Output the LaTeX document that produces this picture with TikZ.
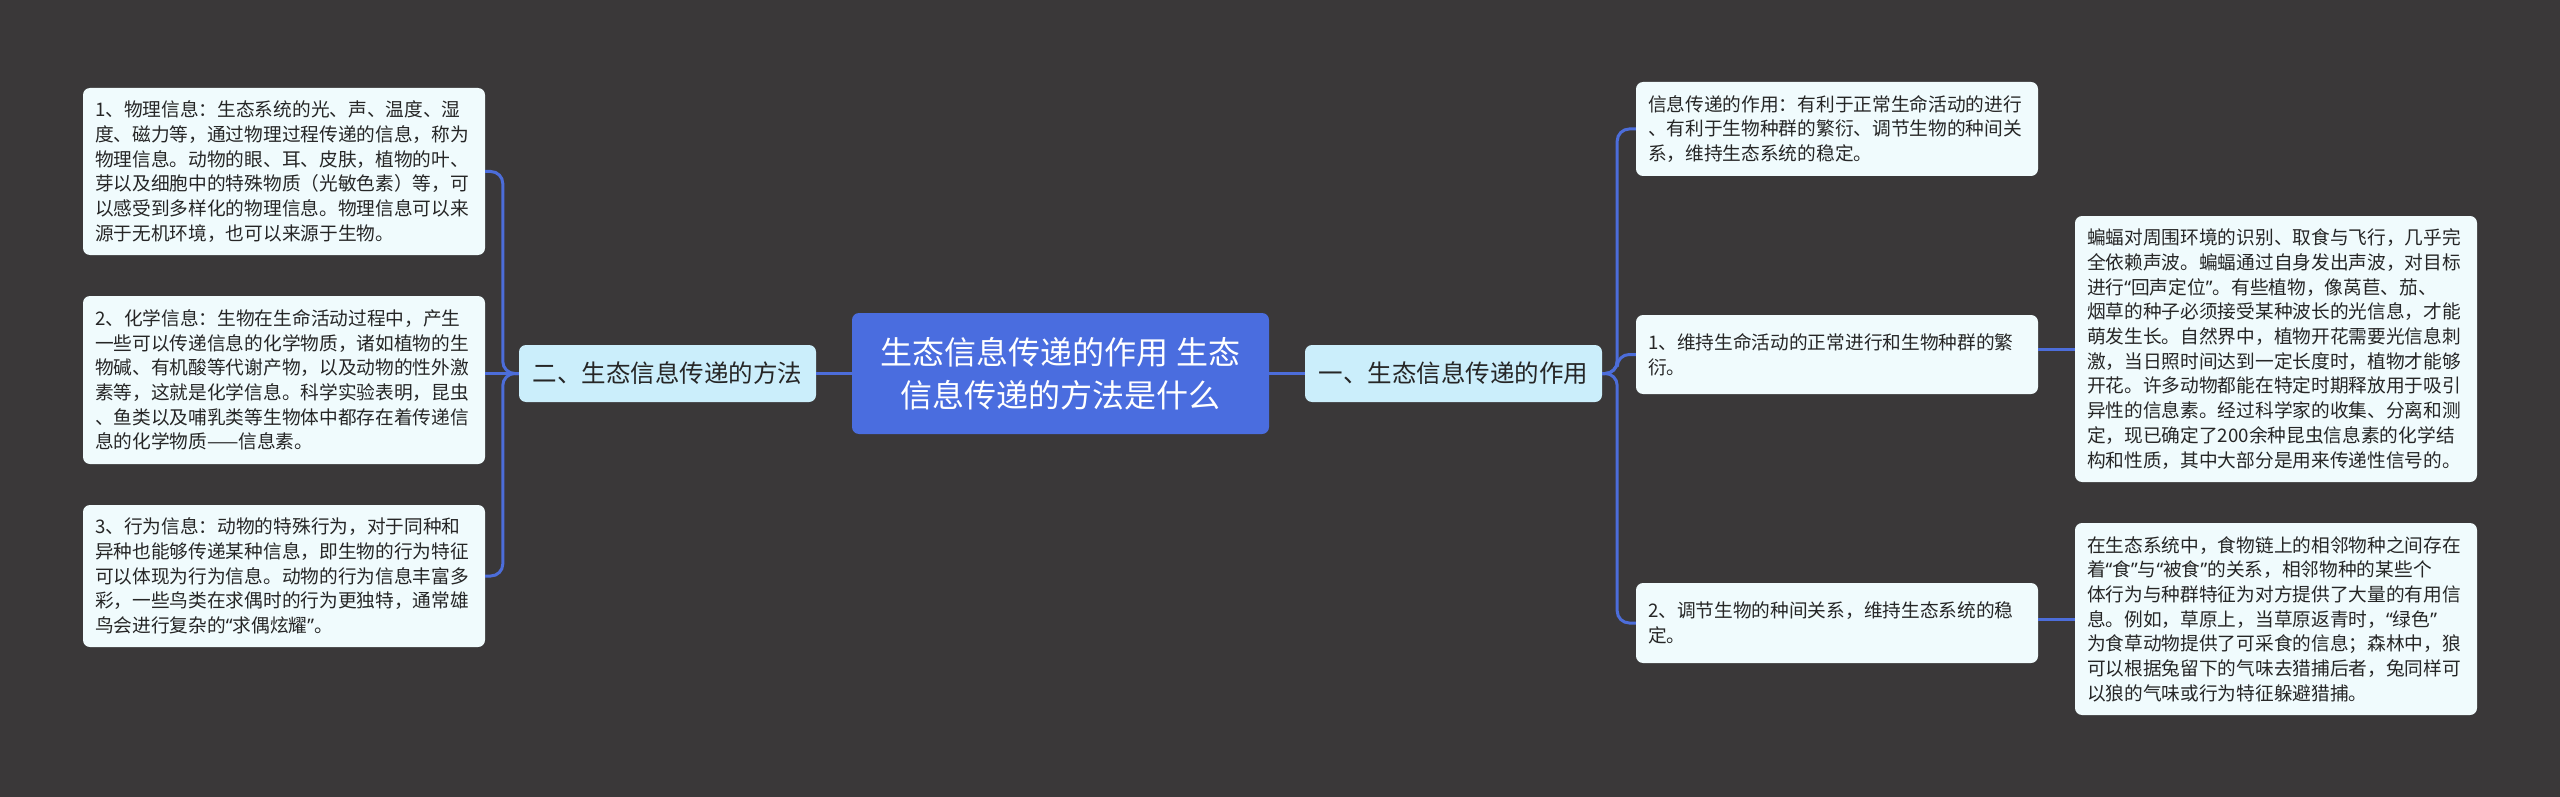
\documentclass[tikz,border=0pt]{standalone}
\usepackage{fontspec}
\newfontfamily\cjk{Noto Sans CJK SC}
\newfontfamily\qfont{Noto Sans}
\newcommand\oq{{\qfont “}}
\newcommand\cq{{\qfont ”}}
\definecolor{bgcol}{HTML}{3A3839}
\definecolor{rootfill}{HTML}{4A6DDF}
\definecolor{midfill}{HTML}{CBEEFB}
\definecolor{leaffill}{HTML}{F0FBFD}
\definecolor{linecol}{HTML}{4C6DDA}
\definecolor{txtcol}{HTML}{262626}
\begin{document}
\begin{tikzpicture}[x=1pt,y=-1pt,
  rootbox/.style={fill=rootfill, rounded corners=7pt, minimum width=417pt, minimum height=121pt,
    align=center, text=white, font=\cjk\fontsize{32pt}{43pt}\selectfont, inner sep=0pt},
  midbox/.style={fill=midfill, rounded corners=7pt, minimum width=297pt, minimum height=57pt,
    align=center, text=txtcol, font=\cjk\fontsize{24.5pt}{30pt}\selectfont, inner sep=0pt},
  leafbox/.style={fill=leaffill, rounded corners=7pt, text width=378pt, inner xsep=12pt, inner ysep=0pt,
    align=left, text=txtcol, font=\cjk\fontsize{18.7pt}{24.7pt}\selectfont},
  conn/.style={draw=linecol, line width=3pt, rounded corners=12pt}
]
\fill[bgcol] (0,0) rectangle (2560,797);
\useasboundingbox (0,0) rectangle (2560,797);

\node[rootbox] (root) at (1060.5,373.5) {生态信息传递的作用 生态\\信息传递的方法是什么};
\node[midbox] (L1) at (667.5,373.5) {二、生态信息传递的方法};
\node[midbox] (R1) at (1453.5,373.5) {一、生态信息传递的作用};

\node[leafbox, minimum height=167pt] (b1) at (284,171.5) {1、物理信息：生态系统的光、声、温度、湿\\
度、磁力等，通过物理过程传递的信息，称为\\
物理信息。动物的眼、耳、皮肤，植物的叶、\\
芽以及细胞中的特殊物质（光敏色素）等，可\\
以感受到多样化的物理信息。物理信息可以来\\
源于无机环境，也可以来源于生物。};

\node[leafbox, minimum height=168pt] (b2) at (284,380) {2、化学信息：生物在生命活动过程中，产生\\
一些可以传递信息的化学物质，诸如植物的生\\
物碱、有机酸等代谢产物，以及动物的性外激\\
素等，这就是化学信息。科学实验表明，昆虫\\
、鱼类以及哺乳类等生物体中都存在着传递信\\
息的化学物质——信息素。};

\node[leafbox, minimum height=142pt] (b3) at (284,576) {3、行为信息：动物的特殊行为，对于同种和\\
异种也能够传递某种信息，即生物的行为特征\\
可以体现为行为信息。动物的行为信息丰富多\\
彩，一些鸟类在求偶时的行为更独特，通常雄\\
鸟会进行复杂的\oq 求偶炫耀\cq 。};

\node[leafbox, minimum height=94pt] (t0) at (1837,129) {信息传递的作用：有利于正常生命活动的进行\\
、有利于生物种群的繁衍、调节生物的种间关\\
系，维持生态系统的稳定。};

\node[leafbox, minimum height=79pt] (t1) at (1837,354.5) {1、维持生命活动的正常进行和生物种群的繁\\
衍。};

\node[leafbox, minimum height=80pt] (t2) at (1837,623) {2、调节生物的种间关系，维持生态系统的稳\\
定。};

\node[leafbox, minimum height=266pt] (bat) at (2276,349) {蝙蝠对周围环境的识别、取食与飞行，几乎完\\
全依赖声波。蝙蝠通过自身发出声波，对目标\\
进行\oq 回声定位\cq 。有些植物，像莴苣、茄、\\
烟草的种子必须接受某种波长的光信息，才能\\
萌发生长。自然界中，植物开花需要光信息刺\\
激，当日照时间达到一定长度时，植物才能够\\
开花。许多动物都能在特定时期释放用于吸引\\
异性的信息素。经过科学家的收集、分离和测\\
定，现已确定了200余种昆虫信息素的化学结\\
构和性质，其中大部分是用来传递性信号的。};

\node[leafbox, minimum height=192pt] (food) at (2276,619) {在生态系统中，食物链上的相邻物种之间存在\\
着\oq 食\cq 与\oq 被食\cq 的关系，相邻物种的某些个\\
体行为与种群特征为对方提供了大量的有用信\\
息。例如，草原上，当草原返青时，\oq 绿色\cq \\
为食草动物提供了可采食的信息；森林中，狼\\
可以根据兔留下的气味去猎捕后者，兔同样可\\
以狼的气味或行为特征躲避猎捕。};

% connectors
\draw[conn] (root.west) -- (L1.east);
\draw[conn] (root.east) -- (R1.west);
\draw[conn] (L1.west) -- ([xshift=-16pt]L1.west) |- (b1.east);
\draw[conn] (L1.west) -- (L1.west -| b2.east);
\draw[conn] (L1.west) -- ([xshift=-16pt]L1.west) |- (b3.east);
\draw[conn] (R1.east) -- ([xshift=15pt]R1.east) |- (t0.west);
\draw[conn] (R1.east) -- ([xshift=15pt]R1.east) |- (t1.west);
\draw[conn] (R1.east) -- ([xshift=15pt]R1.east) |- (t2.west);
\draw[conn] (bat.west -| t1.east) -- (bat.west);
\draw[conn] (food.west -| t2.east) -- (food.west);
\end{tikzpicture}
\end{document}
